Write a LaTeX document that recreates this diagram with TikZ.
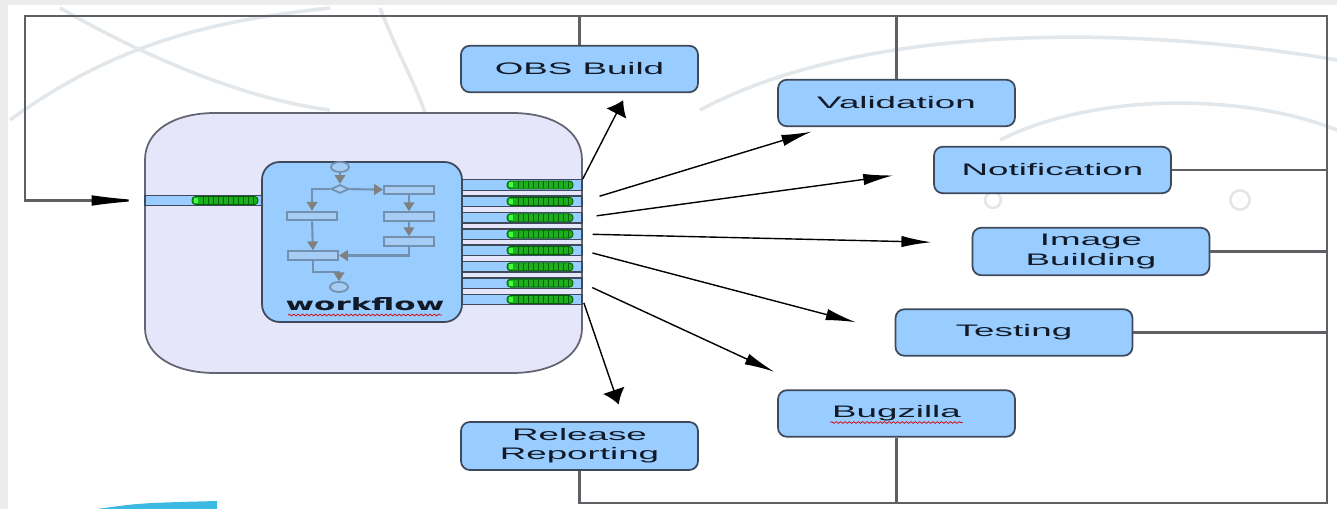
\documentclass[tikz,border=0pt]{standalone}
\usepackage{fontspec}
\setmainfont{Liberation Sans}
\newfontfamily\wffont{DejaVu Sans}
\usepackage{graphicx}
\usetikzlibrary{arrows.meta,shapes.geometric,calc,decorations.pathmorphing}

\definecolor{boxblue}{RGB}{153,204,255}
\definecolor{boxline}{RGB}{62,74,92}
\definecolor{wfback}{RGB}{230,230,250}
\definecolor{wfline}{RGB}{100,100,115}
\definecolor{frameline}{RGB}{95,95,100}
\definecolor{flowline}{RGB}{115,145,175}
\definecolor{flowfill}{RGB}{165,205,245}
\definecolor{coilfill}{RGB}{30,175,30}
\definecolor{coildark}{RGB}{0,95,0}
\definecolor{slidegray}{RGB}{236,236,236}
\definecolor{swirl}{RGB}{226,231,235}
\definecolor{decocyan}{RGB}{60,185,225}
\definecolor{labeltext}{RGB}{18,26,40}

\newcommand{\sx}[1]{\scalebox{2.2}[1]{#1}}
\newcommand{\coil}[2]{%
  \draw[coildark,fill=coilfill,line width=0.5pt,rounded corners=2pt] ({#1-33},{#2-4}) rectangle ({#1+33},{#2+4});
  \foreach \k in {-22,-17,...,28} \draw[coildark,line width=0.5pt] ({#1+\k},{#2-3.5}) -- ({#1+\k},{#2+3.5});
  \fill[green!75!white] ({#1-31},{#2-2.5}) rectangle ({#1-27},{#2+2.5});
}

\begin{document}
\begin{tikzpicture}[x=0.02cm,y=-0.02cm,
    box/.style={draw=boxline,line width=1pt,fill=boxblue,rounded corners=5pt,minimum width=4.74cm,minimum height=0.93cm,inner sep=0pt,font=\fontsize{9.5}{11}\selectfont,text=labeltext},
    port/.style={draw=boxline,line width=0.8pt,fill=boxblue,minimum height=0.21cm,inner sep=0pt},
    link/.style={draw=frameline,line width=1.2pt},
    arr/.style={line width=0.8pt,-{Latex[length=17pt,width=6.5pt]}},
    arrv/.style={line width=0.8pt,-{Latex[length=8.5pt,width=13pt]}},
    fbox/.style={draw=flowline,line width=1.2pt,fill=flowfill,minimum width=1cm,minimum height=0.17cm,inner sep=0pt},
    fend/.style={ellipse,draw=flowline,line width=1pt,fill=flowfill,minimum width=0.36cm,minimum height=0.2cm,inner sep=0pt},
    farr/.style={draw=flowline,line width=1.2pt,-{Triangle[length=5pt,width=6pt,color=gray]}},
    squiggle/.style={draw=red!85!black,line width=0.4pt,decorate,decoration={snake,amplitude=0.5pt,segment length=2.5pt}}]

    % slide background
    \useasboundingbox (0,0) rectangle (1337,509);
    \fill[white] (0,0) rectangle (1337,509);
    \fill[slidegray] (0,0) rectangle (1337,5);
    \fill[slidegray] (0,0) rectangle (8,509);
    \draw[swirl,line width=2pt] (10,120) .. controls (120,40) and (220,20) .. (330,8);
    \draw[swirl,line width=2pt] (60,8) .. controls (150,60) and (250,100) .. (330,110);
    \draw[swirl,line width=2pt] (380,8) .. controls (400,60) and (420,90) .. (430,130);
    \draw[swirl,line width=2pt] (700,110) .. controls (850,30) and (1100,20) .. (1337,60);
    \draw[swirl,line width=2pt] (1000,140) .. controls (1100,90) and (1250,95) .. (1337,130);
    \draw[swirl,line width=1.5pt] (993,200) circle[radius=4.5pt];
    \draw[swirl,line width=1.5pt] (1240,200) circle[radius=5.5pt];
    \fill[decocyan] (97,509) .. controls (140,503) .. (217,501) -- (217,509) -- cycle;

    % services
    \node[box] (obs) at (579.5,69) {\sx{OBS Build}};
    \node[box] (valid) at (896.5,103) {\sx{Validation}};
    \node[box] (notif) at (1052.5,170) {\sx{Notification}};
    \node[box,minimum height=0.95cm] (image) at (1091,251.5) {\sx{\begin{tabular}{@{}c@{}}Image\\Building\end{tabular}}};
    \node[box] (test) at (1014,332.5) {\sx{Testing}};
    \node[box] (bug) at (896.5,413.5) {\sx{Bugzilla}};
    \node[box,minimum height=0.96cm] (rel) at (579.5,446) {\sx{\begin{tabular}{@{}c@{}}Release\\Reporting\end{tabular}}};
    \draw[squiggle] ($(bug.center)+(-66,9)$) -- ($(bug.center)+(66,9)$);

    % feedback lines
    \coordinate (nw) at (25,16);
    \coordinate (se) at (1327,503);
    \draw[link] (obs.north) -- (obs.north |- nw);
    \draw[link] (valid.north) -- (valid.north |- nw);
    \draw[link] (notif.east) -- (notif.east -| se);
    \draw[link] (image.east) -- (image.east -| se);
    \draw[link] (test.east) -- (test.east -| se);
    \draw[link] (bug.south) -- (bug.south |- se);

    % workflow engine
    \draw[draw=wfline,line width=1pt,fill=wfback] (145,160) .. controls (145,130) and (175,113) .. (215,113) -- (512,113)
        .. controls (552,113) and (582,130) .. (582,160) -- (582,328) .. controls (582,356) and (552,373) .. (512,373) -- (215,373)
        .. controls (175,373) and (145,356) .. (145,328) -- cycle;
    \node[draw=boxline,line width=1pt,fill=boxblue,rounded corners=10pt,minimum width=4cm,minimum height=3.2cm] (wf) at (362,242) {};
    \node[port,minimum width=2.34cm] (in) at (203.5,200.5) {};
    \coil{225}{200.5}
    \foreach \i [evaluate=\i as \y using 185+16.36*(\i-1)] in {1,...,8}{
        \node[port,minimum width=2.4cm] (p\i) at (522,\y) {};
        \coil{540}{\y}
    }
    \draw[link,-{Latex[length=30pt,width=6pt,color=black]}] (rel.south) |- (se) |- (nw) |- (in.west);

    % little flow chart
    \node[fend] (fs) at (340,167) {};
    \node[diamond,aspect=2,draw=flowline,line width=1pt,fill=flowfill,minimum width=0.36cm,minimum height=0.17cm,inner sep=0pt] (fd) at (340,189) {};
    \node[fbox] (f1) at (409,190) {};
    \node[fbox] (f2) at (409,216.5) {};
    \node[fbox] (f3) at (409,241.5) {};
    \node[fbox] (f4) at (312,216) {};
    \node[fbox] (f5) at (313,255.5) {};
    \node[fend] (fe) at (339,287) {};
    \draw[farr] (fs) -- (fd);
    \draw[farr] (fd) -- (f1);
    \draw[farr] (fd.west) -| (f4);
    \draw[farr] (f1) -- (f2);
    \draw[farr] (f2) -- (f3);
    \draw[farr] (f4) -- (f5);
    \draw[farr] (f3.south) |- (f5.east);
    \draw[farr] (f5.south) -- ++(0,11) -| (fe.north);
    \node[anchor=base,font=\wffont\bfseries\fontsize{9.7}{11}\selectfont,text=labeltext] (wflabel) at (365,311) {\scalebox{1.82}[1]{workflow}};
    \draw[squiggle] (288,315) -- (442,315);

    % dispatch
    \draw[arrv,shorten >=4.5pt] (p1.north east) -- (obs.-27);
    \draw[arr,shorten <=10pt,shorten >=9pt] (p2.east) -- (valid.199);
    \draw[arr,shorten <=8pt,shorten >=23pt] (p3.east) -- (notif.west);
    \draw[arr,shorten <=5.7pt,shorten >=23pt] (p4.east) -- (image.176);
    \draw[arr,shorten <=5.7pt,shorten >=23pt] (p5.east) -- (test.west);
    \draw[arr,shorten <=6pt,shorten >=24pt] (p7.east) -- (bug.164);
    \draw[arrv,shorten <=2pt,shorten >=10pt] (p8.east) -- (rel.29);
\end{tikzpicture}
\end{document}
